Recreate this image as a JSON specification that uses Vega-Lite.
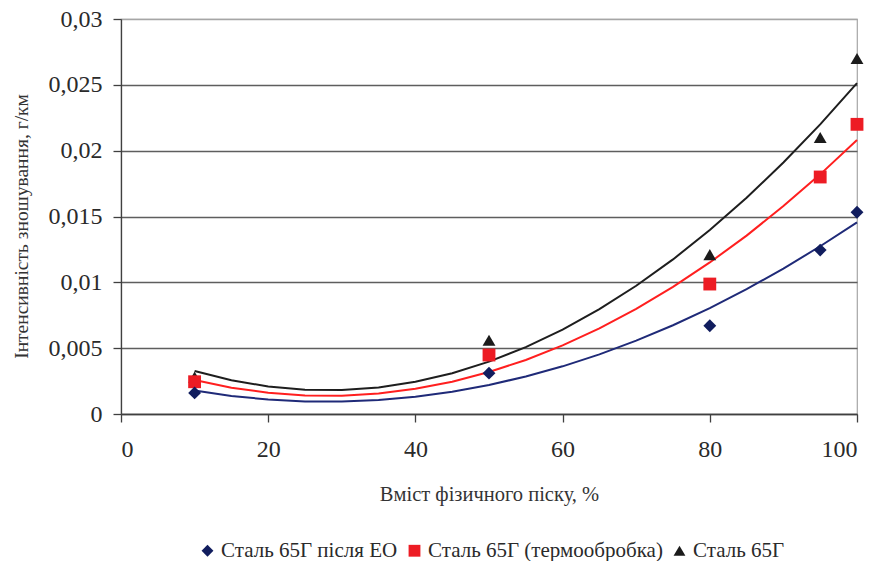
{
  "$schema": "https://vega.github.io/schema/vega-lite/v6.json",
  "width": 736,
  "height": 395,
  "autosize": "none",
  "padding": {"left": 121, "top": 19, "right": 25, "bottom": 147},
  "background": "white",
  "config": {
    "view": {"stroke": "#a6a6a6", "strokeWidth": 1.2},
    "font": "Liberation Serif",
    "axis": {
      "labelFont": "Liberation Serif",
      "titleFont": "Liberation Serif",
      "labelColor": "#2a2a2a",
      "titleColor": "#333333",
      "titleFontWeight": "normal",
      "domainColor": "#404040",
      "tickColor": "#404040",
      "domainWidth": 1.3,
      "tickWidth": 1.3
    },
    "legend": {
      "labelFont": "Liberation Serif"
    }
  },
  "datasets": {
    "points": [
      {"sand": 10, "wear": 0.0028, "series": "Сталь 65Г"},
      {"sand": 50, "wear": 0.0056, "series": "Сталь 65Г"},
      {"sand": 80, "wear": 0.0121, "series": "Сталь 65Г"},
      {"sand": 95, "wear": 0.0210, "series": "Сталь 65Г"},
      {"sand": 100, "wear": 0.0270, "series": "Сталь 65Г"},
      {"sand": 10, "wear": 0.00245, "series": "Сталь 65Г (термообробка)"},
      {"sand": 50, "wear": 0.00448, "series": "Сталь 65Г (термообробка)"},
      {"sand": 80, "wear": 0.00987, "series": "Сталь 65Г (термообробка)"},
      {"sand": 95, "wear": 0.0180, "series": "Сталь 65Г (термообробка)"},
      {"sand": 100, "wear": 0.0220, "series": "Сталь 65Г (термообробка)"},
      {"sand": 10, "wear": 0.0016, "series": "Сталь 65Г після ЕО"},
      {"sand": 50, "wear": 0.0031, "series": "Сталь 65Г після ЕО"},
      {"sand": 80, "wear": 0.0067, "series": "Сталь 65Г після ЕО"},
      {"sand": 95, "wear": 0.01245, "series": "Сталь 65Г після ЕО"},
      {"sand": 100, "wear": 0.01532, "series": "Сталь 65Г після ЕО"}
    ],
    "trend": [
      {"sand": 10, "wear": 0.00326, "series": "Сталь 65Г"},
      {"sand": 15, "wear": 0.00256, "series": "Сталь 65Г"},
      {"sand": 20, "wear": 0.00209, "series": "Сталь 65Г"},
      {"sand": 25, "wear": 0.00184, "series": "Сталь 65Г"},
      {"sand": 30, "wear": 0.00182, "series": "Сталь 65Г"},
      {"sand": 35, "wear": 0.00202, "series": "Сталь 65Г"},
      {"sand": 40, "wear": 0.00245, "series": "Сталь 65Г"},
      {"sand": 45, "wear": 0.0031, "series": "Сталь 65Г"},
      {"sand": 50, "wear": 0.00398, "series": "Сталь 65Г"},
      {"sand": 55, "wear": 0.00508, "series": "Сталь 65Г"},
      {"sand": 60, "wear": 0.00641, "series": "Сталь 65Г"},
      {"sand": 65, "wear": 0.00796, "series": "Сталь 65Г"},
      {"sand": 70, "wear": 0.00974, "series": "Сталь 65Г"},
      {"sand": 75, "wear": 0.01174, "series": "Сталь 65Г"},
      {"sand": 80, "wear": 0.01397, "series": "Сталь 65Г"},
      {"sand": 85, "wear": 0.01642, "series": "Сталь 65Г"},
      {"sand": 90, "wear": 0.0191, "series": "Сталь 65Г"},
      {"sand": 95, "wear": 0.0220, "series": "Сталь 65Г"},
      {"sand": 100, "wear": 0.02513, "series": "Сталь 65Г"},
      {"sand": 10, "wear": 0.00259, "series": "Сталь 65Г (термообробка)"},
      {"sand": 15, "wear": 0.002, "series": "Сталь 65Г (термообробка)"},
      {"sand": 20, "wear": 0.00161, "series": "Сталь 65Г (термообробка)"},
      {"sand": 25, "wear": 0.0014, "series": "Сталь 65Г (термообробка)"},
      {"sand": 30, "wear": 0.00139, "series": "Сталь 65Г (термообробка)"},
      {"sand": 35, "wear": 0.00155, "series": "Сталь 65Г (термообробка)"},
      {"sand": 40, "wear": 0.00191, "series": "Сталь 65Г (термообробка)"},
      {"sand": 45, "wear": 0.00245, "series": "Сталь 65Г (термообробка)"},
      {"sand": 50, "wear": 0.00319, "series": "Сталь 65Г (термообробка)"},
      {"sand": 55, "wear": 0.0041, "series": "Сталь 65Г (термообробка)"},
      {"sand": 60, "wear": 0.00521, "series": "Сталь 65Г (термообробка)"},
      {"sand": 65, "wear": 0.0065, "series": "Сталь 65Г (термообробка)"},
      {"sand": 70, "wear": 0.00799, "series": "Сталь 65Г (термообробка)"},
      {"sand": 75, "wear": 0.00965, "series": "Сталь 65Г (термообробка)"},
      {"sand": 80, "wear": 0.01151, "series": "Сталь 65Г (термообробка)"},
      {"sand": 85, "wear": 0.01355, "series": "Сталь 65Г (термообробка)"},
      {"sand": 90, "wear": 0.01579, "series": "Сталь 65Г (термообробка)"},
      {"sand": 95, "wear": 0.0182, "series": "Сталь 65Г (термообробка)"},
      {"sand": 100, "wear": 0.02081, "series": "Сталь 65Г (термообробка)"},
      {"sand": 10, "wear": 0.00178, "series": "Сталь 65Г після ЕО"},
      {"sand": 15, "wear": 0.00137, "series": "Сталь 65Г після ЕО"},
      {"sand": 20, "wear": 0.0011, "series": "Сталь 65Г після ЕО"},
      {"sand": 25, "wear": 0.00095, "series": "Сталь 65Г після ЕО"},
      {"sand": 30, "wear": 0.00094, "series": "Сталь 65Г після ЕО"},
      {"sand": 35, "wear": 0.00106, "series": "Сталь 65Г після ЕО"},
      {"sand": 40, "wear": 0.00131, "series": "Сталь 65Г після ЕО"},
      {"sand": 45, "wear": 0.00169, "series": "Сталь 65Г після ЕО"},
      {"sand": 50, "wear": 0.0022, "series": "Сталь 65Г після ЕО"},
      {"sand": 55, "wear": 0.00285, "series": "Сталь 65Г після ЕО"},
      {"sand": 60, "wear": 0.00362, "series": "Сталь 65Г після ЕО"},
      {"sand": 65, "wear": 0.00453, "series": "Сталь 65Г після ЕО"},
      {"sand": 70, "wear": 0.00557, "series": "Сталь 65Г після ЕО"},
      {"sand": 75, "wear": 0.00674, "series": "Сталь 65Г після ЕО"},
      {"sand": 80, "wear": 0.00804, "series": "Сталь 65Г після ЕО"},
      {"sand": 85, "wear": 0.00948, "series": "Сталь 65Г після ЕО"},
      {"sand": 90, "wear": 0.01104, "series": "Сталь 65Г після ЕО"},
      {"sand": 95, "wear": 0.01274, "series": "Сталь 65Г після ЕО"},
      {"sand": 100, "wear": 0.01456, "series": "Сталь 65Г після ЕО"}
    ]
  },
  "layer": [
    {
      "data": {"name": "trend"},
      "mark": {"type": "line", "strokeWidth": 2},
      "encoding": {
        "x": {
          "field": "sand", "type": "quantitative",
          "scale": {"domain": [0, 100], "nice": false},
          "axis": {
            "values": [0, 20, 40, 60, 80, 100],
            "title": "Вміст фізичного піску, %",
            "labelFontSize": 24,
            "labelPadding": 15,
            "tickSize": 8,
            "grid": false,
            "titleFontSize": 20.5,
            "titleY": 80,
            "titleBaseline": "middle"
          }
        },
        "y": {
          "field": "wear", "type": "quantitative",
          "scale": {"domain": [0, 0.03], "nice": false},
          "axis": {
            "values": [0, 0.005, 0.01, 0.015, 0.02, 0.025, 0.03],
            "labelExpr": "replace(format(datum.value, '~g'), '.', ',')",
            "labelFontSize": 24,
            "labelPadding": 11,
            "tickSize": 8,
            "grid": true,
            "gridWidth": 1.5,
            "gridColor": {"condition": {"test": "datum.value >= 0.029", "value": "#a6a6a6"}, "value": "#5e5e5e"},
            "title": "Інтенсивність зношування, г/км",
            "titleFontSize": 19.5,
            "titleX": -100,
            "titleY": 207,
            "titleBaseline": "middle",
            "titleAlign": "center"
          }
        },
        "color": {
          "field": "series", "type": "nominal",
          "scale": {
            "domain": ["Сталь 65Г після ЕО", "Сталь 65Г (термообробка)", "Сталь 65Г"],
            "range": ["#1f2a78", "#ff1f1f", "#1e1e1e"]
          },
          "legend": null
        },
        "detail": {"field": "series"}
      }
    },
    {
      "data": {"name": "points"},
      "mark": {"type": "point", "filled": true, "opacity": 1, "size": 165, "strokeWidth": 0},
      "encoding": {
        "x": {"field": "sand", "type": "quantitative"},
        "y": {"field": "wear", "type": "quantitative"},
        "color": {
          "field": "series", "type": "nominal",
          "scale": {
            "domain": ["Сталь 65Г після ЕО", "Сталь 65Г (термообробка)", "Сталь 65Г"],
            "range": ["#111d5e", "#ed1c24", "#1b1b1b"]
          },
          "legend": {
            "orient": "none",
            "legendX": 76,
            "legendY": 521,
            "direction": "horizontal",
            "title": null,
            "labelFontSize": 21,
            "labelColor": "#2a2a2a",
            "labelLimit": 400,
            "symbolSize": 140,
            "symbolOpacity": 1,
            "symbolStrokeWidth": 0,
            "labelOffset": 3,
            "columnPadding": 6
          }
        },
        "shape": {
          "field": "series", "type": "nominal",
          "scale": {
            "domain": ["Сталь 65Г після ЕО", "Сталь 65Г (термообробка)", "Сталь 65Г"],
            "range": ["diamond", "square", "triangle-up"]
          }
        }
      }
    }
  ],
  "resolve": {"scale": {"color": "independent", "shape": "independent"}}
}
